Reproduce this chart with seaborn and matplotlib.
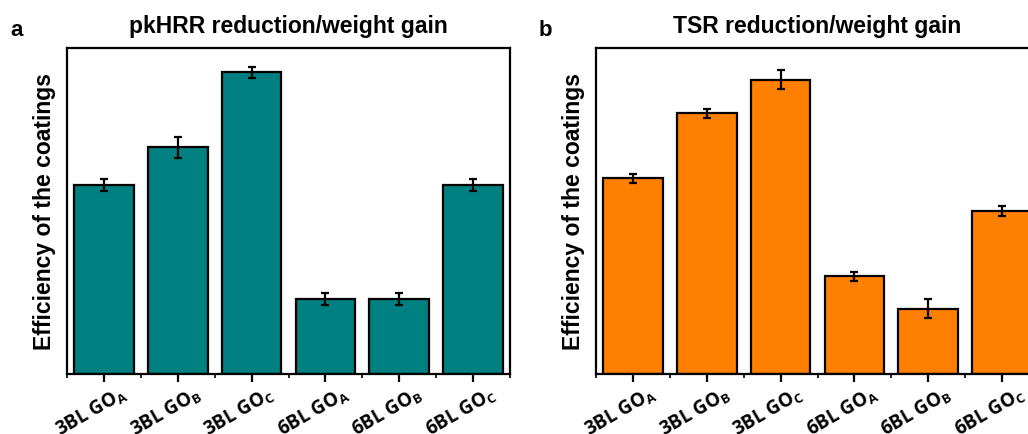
import numpy as np
import pandas as pd
import matplotlib
matplotlib.use("Agg")
import matplotlib.pyplot as plt
import matplotlib.transforms as mtransforms
import seaborn as sns

categories = ["3BL GO$_{\\mathbf{A}}$", "3BL GO$_{\\mathbf{B}}$", "3BL GO$_{\\mathbf{C}}$",
              "6BL GO$_{\\mathbf{A}}$", "6BL GO$_{\\mathbf{B}}$", "6BL GO$_{\\mathbf{C}}$"]
pkhrr_values = [58.0, 69.6, 92.6, 23.0, 23.0, 58.0]
pkhrr_errors = [1.8, 3.2, 1.7, 1.7, 1.7, 1.8]
tsr_values = [60.1, 80.0, 90.2, 30.0, 20.0, 50.0]
tsr_errors = [1.4, 1.4, 2.9, 1.4, 2.9, 1.4]
titles = ["pkHRR reduction/weight gain", "TSR reduction/weight gain"]
panel_letters = ["a", "b"]
colors = ["#008080", "#FF7F00"]
ylabel = "Efficiency of the coatings"

sns.set_style("ticks")
plt.rcParams["font.family"] = ["Liberation Sans", "DejaVu Sans"]
plt.rcParams["mathtext.fontset"] = "custom"
plt.rcParams["mathtext.bf"] = "Open Sans:bold"
plt.rcParams["mathtext.rm"] = "Open Sans"
plt.rcParams["text.color"] = "black"
plt.rcParams["axes.labelcolor"] = "black"
plt.rcParams["axes.edgecolor"] = "black"
plt.rcParams["xtick.color"] = "black"
plt.rcParams["ytick.color"] = "black"

fig = plt.figure(figsize=(10.28, 4.34), dpi=100)
W, H = 1028, 434
ax_specs = [(67, 48, 443, 326), (596, 48, 443, 326)]

datasets = [(pkhrr_values, pkhrr_errors), (tsr_values, tsr_errors)]
for i, ((vals, errs), (x0, y0, w, h)) in enumerate(zip(datasets, ax_specs)):
    ax = fig.add_axes([x0 / W, (H - y0 - h) / H, w / W, h / H])
    df = pd.DataFrame({"cat": categories, "val": vals})
    sns.barplot(data=df, x="cat", y="val", ax=ax, color=colors[i],
                saturation=1, edgecolor="black", linewidth=1.6, width=0.81, errorbar=None)
    ax.errorbar(np.arange(len(vals)), vals, yerr=errs, fmt="none", ecolor="black",
                elinewidth=1.6, capsize=3, capthick=1.6, zorder=5)
    ax.set_xlim(-0.5, 5.5)
    ax.set_ylim(0, 100)
    ax.set_yticks([])
    ax.set_xlabel("")
    ax.set_ylabel(ylabel, fontsize=16.5, fontweight="bold", labelpad=8)
    for sp in ax.spines.values():
        sp.set_linewidth(1.6)
        sp.set_visible(True)
    ax.set_xticks(np.arange(len(vals)))
    ax.set_xticks(np.arange(-0.5, 6.0, 1.0), minor=True)
    ax.tick_params(axis="x", which="major", length=6, width=1.6, direction="out", pad=1)
    ax.tick_params(axis="x", which="minor", length=3, width=1.2, direction="out")
    offset = mtransforms.ScaledTranslation(-12 / 100, 0, fig.dpi_scale_trans)
    for lab in ax.get_xticklabels():
        lab.set_rotation(30)
        lab.set_ha("center")
        lab.set_fontfamily("Open Sans")
        lab.set_fontweight("bold")
        lab.set_fontsize(13.5)
        lab.set_transform(lab.get_transform() + offset)
    ax.set_title(titles[i], fontsize=16.5, fontweight="bold", pad=11)
    fig.text((x0 - 57) / W, 1 - 30 / H, panel_letters[i], fontsize=16, fontweight="bold",
             ha="left", va="center")

fig.savefig("out.png", dpi=100)
